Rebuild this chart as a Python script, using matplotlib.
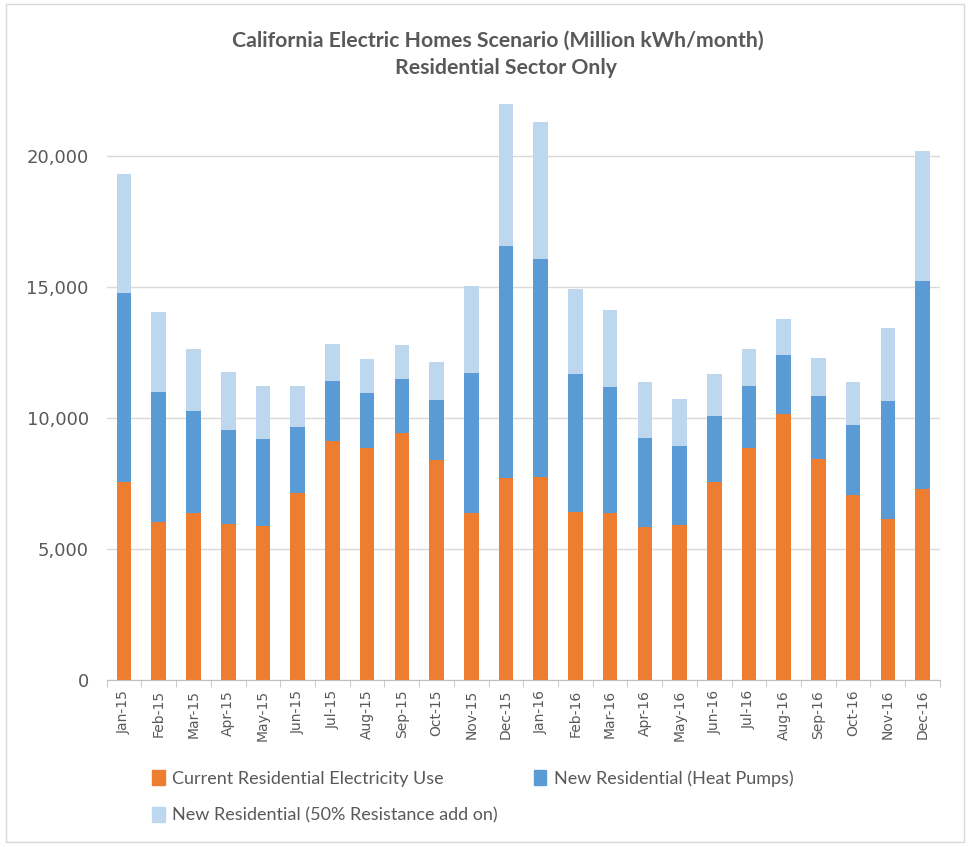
import numpy as np
import matplotlib.pyplot as plt
from matplotlib.patches import Patch, Rectangle

months = ["Jan-15", "Feb-15", "Mar-15", "Apr-15", "May-15", "Jun-15",
          "Jul-15", "Aug-15", "Sep-15", "Oct-15", "Nov-15", "Dec-15",
          "Jan-16", "Feb-16", "Mar-16", "Apr-16", "May-16", "Jun-16",
          "Jul-16", "Aug-16", "Sep-16", "Oct-16", "Nov-16", "Dec-16"]

# stacked totals (million kWh/month)
current = [7570, 6050, 6360, 5960, 5880, 7120, 9110, 8850, 9420, 8380, 6370, 7720,
           7760, 6430, 6390, 5860, 5920, 7540, 8860, 10150, 8440, 7080, 6140, 7280]
with_hp = [14770, 10990, 10260, 9560, 9180, 9650, 11400, 10940, 11480, 10700, 11730, 16550,
           16080, 11680, 11180, 9250, 8920, 10090, 11210, 12400, 10820, 9750, 10640, 15230]
with_res = [19300, 14040, 12620, 11740, 11210, 11210, 12840, 12240, 12780, 12130, 15030, 21990,
            21290, 14930, 14110, 11360, 10730, 11680, 12650, 13770, 12300, 11370, 13420, 20180]

current = np.array(current)
heat_pumps = np.array(with_hp) - current
resistance = np.array(with_res) - np.array(with_hp)

c_orange = "#ED7D31"
c_blue = "#5B9BD5"
c_light = "#BDD7EE"
grey_txt = "#595959"
narrow = ["Lato", "DejaVu Sans"]

fig = plt.figure(figsize=(9.7, 8.47), dpi=100)
fig.patches.append(Rectangle((0.006, 0.006), 0.988, 0.989, transform=fig.transFigure,
                             fill=False, edgecolor="#D9D9D9", linewidth=1))
ax = fig.add_axes([0.110, 0.197, 0.859, 0.684])

x = np.arange(len(months))
w = 0.42
ax.bar(x, current, w, color=c_orange, zorder=3)
ax.bar(x, heat_pumps, w, bottom=current, color=c_blue, zorder=3)
ax.bar(x, resistance, w, bottom=current + heat_pumps, color=c_light, zorder=3)

ax.set_xlim(-0.5, len(months) - 0.5)
ax.set_ylim(0, 22100)
ax.set_yticks([0, 5000, 10000, 15000, 20000])
ax.set_yticklabels(["0", "5,000", "10,000", "15,000", "20,000"])
ax.yaxis.grid(True, color="#D9D9D9", linewidth=1, zorder=0)
ax.set_axisbelow(True)
ax.tick_params(axis="y", length=0, pad=13, labelsize=13, labelcolor=grey_txt)

ax.set_xticks(x)
ax.set_xticklabels(months, rotation=90)
ax.set_xticks(np.arange(-0.5, len(months)), minor=True)
ax.tick_params(axis="x", which="major", length=0, pad=7, labelsize=10, labelcolor=grey_txt)
ax.tick_params(axis="x", which="minor", length=5, color="#BFBFBF")

for s in ["left", "top", "right"]:
    ax.spines[s].set_visible(False)
ax.spines["bottom"].set_color("#BFBFBF")

fig.text(0.513, 0.952, "California Electric Homes Scenario (Million kWh/month)",
         ha="center", va="center", fontsize=15.3, fontweight="bold", color=grey_txt, family=narrow)
fig.text(0.522, 0.920, "Residential Sector Only",
         ha="center", va="center", fontsize=15.3, fontweight="bold", color=grey_txt, family=narrow)

handles = [Patch(color=c_orange, label="Current Residential Electricity Use"),
           Patch(color=c_light, label="New Residential (50% Resistance add on)"),
           Patch(color=c_blue, label="New Residential (Heat Pumps)")]
fig.legend(handles=handles, ncol=2, loc="upper left", bbox_to_anchor=(0.140, 0.110),
           frameon=False, handlelength=0.7, handleheight=0.9, handletextpad=0.4,
           columnspacing=2.0, labelspacing=1.12, prop={"family": narrow, "size": 13},
           labelcolor=grey_txt)

fig.savefig("out.png", dpi=100)
